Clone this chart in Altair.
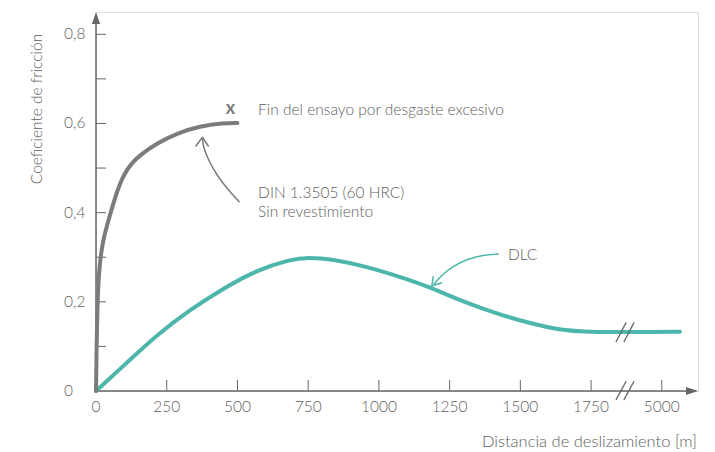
import altair as alt
import pandas as pd

# ---------------- data ----------------
# Uncoated steel DIN 1.3505 (grey curve): sliding distance [m] vs friction coefficient
din_x = [0, 2, 5, 9, 14, 24, 38, 61, 80, 100, 125, 155, 214, 285, 368, 450, 500]
din_y = [0, 0.10, 0.19, 0.25, 0.29, 0.335, 0.37, 0.42, 0.458, 0.487, 0.51, 0.529, 0.555, 0.578, 0.594, 0.601, 0.601]

# DLC coating (teal curve); positions beyond the axis break (1875) are on the compressed segment
dlc_x = [0, 100, 215, 332, 450, 568, 686, 750, 840, 957, 1075, 1181, 1310, 1428, 1546, 1640, 1722, 1840, 1958, 2064]
dlc_y = [0, 0.058, 0.126, 0.182, 0.230, 0.271, 0.295, 0.300, 0.295, 0.279, 0.256, 0.233, 0.197, 0.171,
         0.150, 0.137, 0.133, 0.132, 0.132, 0.133]

# axis ticks and labels
x_tick_pos = [250, 500, 750, 1000, 1250, 1500, 1750, 2000]
x_label_pos = [0, 250, 500, 750, 1000, 1250, 1500, 1750, 2000]
x_labels = ["0", "250", "500", "750", "1000", "1250", "1500", "1750", "5000"]
y_tick_pos = [0.1, 0.2, 0.3, 0.4, 0.5, 0.6, 0.7, 0.8]
y_label_pos = [0.8, 0.6, 0.4, 0.2, 0]
y_labels = ["0,8", "0,6", "0,4", "0,2", "0"]

# axis break (position on the x axis) and slash geometry in data units
break_x1 = [1838, 1866]
break_x2 = [1874, 1902]
break_axis_y1 = [-0.02, -0.02]
break_axis_y2 = [0.022, 0.022]
break_line_y1 = [0.110, 0.110]
break_line_y2 = [0.154, 0.154]

# annotations
note_text = ["Fin del ensayo por desgaste excesivo", "DIN 1.3505 (60 HRC)", "Sin revestimiento", "DLC"]
note_x = [573, 573, 573, 1456]
note_y = [0.630, 0.444, 0.401, 0.305]
end_mark_x = [475]
end_mark_y = [0.632]

din_arrow_x = [506, 462, 427, 397, 379, 376]
din_arrow_y = [0.4245, 0.4546, 0.4844, 0.518, 0.548, 0.5667]
din_head_x = [353, 376, 397]
din_head_y = [0.5494, 0.569, 0.5494]

dlc_arrow_x = [1422, 1369, 1310, 1263, 1222, 1195]
dlc_arrow_y = [0.3072, 0.305, 0.2954, 0.2803, 0.2601, 0.240]
dlc_head_x = [1192, 1187, 1222]
dlc_head_y = [0.2563, 0.2355, 0.2429]

# ---------------- style ----------------
W, H = 602, 379
GREY = "#7b7b7b"
TEAL = "#4db6aa"
AXIS = "#666666"
TXT = "#5e5e5e"
FONT = "Lato"
FS = 15.5
FW = 300

xs = alt.Scale(domain=[0, 2128], nice=False, zero=False)
ys = alt.Scale(domain=[0, 0.85], nice=False, zero=False)


def X(f="x"):
    return alt.X(f"{f}:Q", scale=xs, axis=None)


def Y(f="y"):
    return alt.Y(f"{f}:Q", scale=ys, axis=None)


def one():
    return pd.DataFrame({"a": [0]})


din = pd.DataFrame({"x": din_x, "y": din_y})
dlc = pd.DataFrame({"x": dlc_x, "y": dlc_y})

dlc_line = alt.Chart(dlc).mark_line(color=TEAL, strokeWidth=4, interpolate="basis", strokeCap="round").encode(
    x=X(), y=Y())
din_line = alt.Chart(din).mark_line(color=GREY, strokeWidth=4, interpolate="basis", strokeCap="round").encode(
    x=X(), y=Y())

# axes
y_axis_line = alt.Chart(one()).mark_rule(color=AXIS, strokeWidth=1.5).encode(
    x=alt.value(0), y=alt.value(H), y2=alt.value(8))
x_axis_line = alt.Chart(one()).mark_rule(color=AXIS, strokeWidth=1.5).encode(
    x=alt.value(0), x2=alt.value(W - 8), y=alt.value(H))
y_arrow = alt.Chart(one()).mark_point(
    shape="M0,-1L0.667,1L-0.667,1Z", filled=True, color=AXIS, opacity=1, size=144).encode(
    x=alt.value(0), y=alt.value(6))
x_arrow = alt.Chart(one()).mark_point(
    shape="M1,0L-1,-0.667L-1,0.667Z", filled=True, color=AXIS, opacity=1, size=144).encode(
    x=alt.value(W - 6), y=alt.value(H))

y_ticks = alt.Chart(pd.DataFrame({"y": y_tick_pos})).mark_rule(color=AXIS, strokeWidth=1).encode(
    y=Y(), x=alt.value(0), x2=alt.value(10))
x_ticks = alt.Chart(pd.DataFrame({"x": x_tick_pos})).mark_rule(color=AXIS, strokeWidth=1).encode(
    x=X(), y=alt.value(H), y2=alt.value(H - 11))

y_lab = alt.Chart(pd.DataFrame({"y": y_label_pos, "t": y_labels})).mark_text(
    font=FONT, fontSize=FS, fontWeight=FW, color=TXT, align="left", baseline="middle").encode(
    y=Y(), x=alt.value(-32), text="t:N")
x_lab = alt.Chart(pd.DataFrame({"x": x_label_pos, "t": x_labels})).mark_text(
    font=FONT, fontSize=FS, fontWeight=FW, color=TXT, align="center", baseline="middle").encode(
    x=X(), y=alt.value(H + 16), text="t:N")

y_title = alt.Chart(pd.DataFrame({"t": ["Coeficiente de fricción"]})).mark_text(
    font=FONT, fontSize=FS, fontWeight=FW, color=TXT, align="center", baseline="middle", angle=270).encode(
    x=alt.value(-59), y=alt.value(97), text="t:N")
x_title = alt.Chart(pd.DataFrame({"t": ["Distancia de deslizamiento [m]"]})).mark_text(
    font=FONT, fontSize=16.5, fontWeight=FW, color=TXT, align="right", baseline="middle").encode(
    x=alt.value(W - 1), y=alt.value(H + 51), text="t:N")

# axis break slashes
brk = pd.DataFrame({"x": break_x1, "x2": break_x2, "y": break_axis_y1, "y2": break_axis_y2})
brk_axis = alt.Chart(brk).mark_rule(color=AXIS, strokeWidth=1.3).encode(
    x=X(), x2="x2:Q", y=Y(), y2="y2:Q")
brk2 = pd.DataFrame({"x": break_x1, "x2": break_x2, "y": break_line_y1, "y2": break_line_y2})
brk_line = alt.Chart(brk2).mark_rule(color=AXIS, strokeWidth=1.3).encode(
    x=X(), x2="x2:Q", y=Y(), y2="y2:Q")

# annotations
notes = alt.Chart(pd.DataFrame({"x": note_x, "y": note_y, "t": note_text})).mark_text(
    font=FONT, fontSize=FS, fontWeight=FW, color=TXT, align="left", baseline="middle").encode(
    x=X(), y=Y(), text="t:N")
end_mark = alt.Chart(pd.DataFrame({"x": end_mark_x, "y": end_mark_y, "t": ["x"]})).mark_text(
    font=FONT, fontSize=18, fontWeight="bold", color=GREY, align="center", baseline="middle").encode(
    x=X(), y=Y(), text="t:N")

din_arrow = alt.Chart(pd.DataFrame({
    "x": din_arrow_x, "y": din_arrow_y, "o": list(range(len(din_arrow_x)))})).mark_line(
    color=GREY, strokeWidth=1.5, interpolate="basis", strokeCap="round").encode(x=X(), y=Y(), order="o:Q")
din_head = alt.Chart(pd.DataFrame({
    "x": din_head_x, "y": din_head_y, "o": [0, 1, 2]})).mark_line(
    color=GREY, strokeWidth=1.5, strokeCap="round", strokeJoin="round").encode(x=X(), y=Y(), order="o:Q")
dlc_arrow = alt.Chart(pd.DataFrame({
    "x": dlc_arrow_x, "y": dlc_arrow_y, "o": list(range(len(dlc_arrow_x)))})).mark_line(
    color=TEAL, strokeWidth=1.5, interpolate="basis", strokeCap="round").encode(x=X(), y=Y(), order="o:Q")
dlc_head = alt.Chart(pd.DataFrame({
    "x": dlc_head_x, "y": dlc_head_y, "o": [0, 1, 2]})).mark_line(
    color=TEAL, strokeWidth=1.5, strokeCap="round", strokeJoin="round").encode(x=X(), y=Y(), order="o:Q")

chart = alt.layer(
    y_ticks, x_ticks, y_axis_line, x_axis_line, y_arrow, x_arrow,
    dlc_line, din_line, brk_axis, brk_line,
    din_arrow, din_head, dlc_arrow, dlc_head,
    y_lab, x_lab, y_title, x_title, notes, end_mark,
).properties(
    width=W, height=H,
    autosize=alt.AutoSizeParams(type="none"),
    padding={"left": 88, "top": 4, "right": 5, "bottom": 60},
).configure_view(stroke=None).configure(background="white")

chart.save("out.html", embed_options={"renderer": "svg", "actions": False})
